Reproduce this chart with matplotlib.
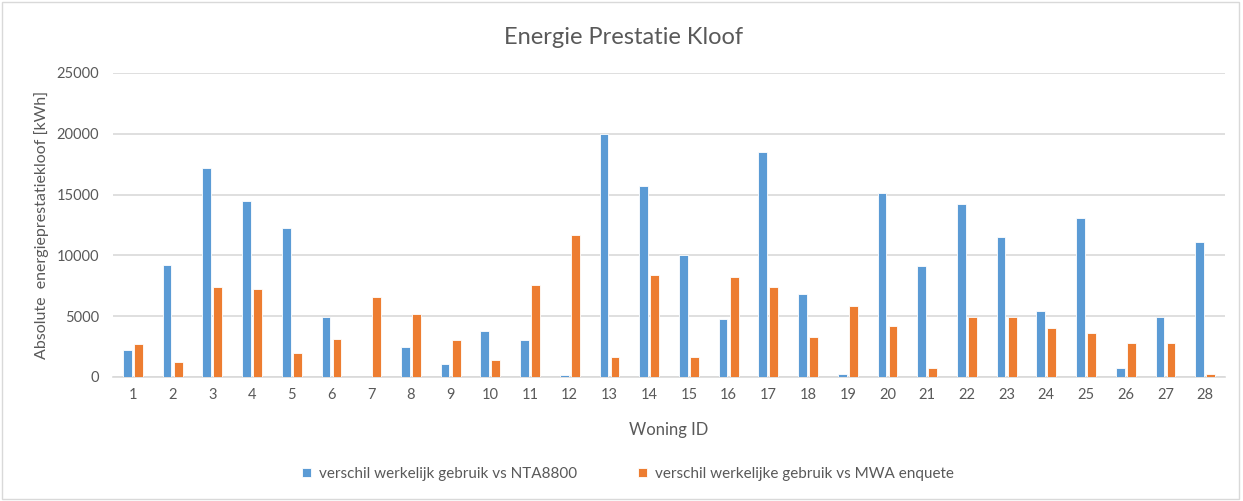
#!/usr/bin/env python3

import numpy as np
import matplotlib.pyplot as plt
from matplotlib.patches import Rectangle

woning_ids = [str(i) for i in range(1, 29)]
nta8800 = [2200, 9250, 17200, 14450, 12250, 4900, 0, 2450, 1070, 3820,
           3020, 140, 20000, 15700, 10050, 4750, 18500, 6850, 250, 15150,
           9150, 14250, 11550, 5450, 13050, 700, 4900, 11100]
mwa_enquete = [2680, 1200, 7420, 7200, 2000, 3150, 6600, 5220, 3020, 1400,
               7530, 11680, 1650, 8350, 1650, 8220, 7420, 3270, 5800, 4180,
               720, 4900, 4900, 4070, 3600, 2800, 2800, 250]
series_labels = ['verschil werkelijk gebruik vs NTA8800',
                 'verschil werkelijke gebruik vs MWA enquete']

blue = '#5b9bd5'
orange = '#ed7d31'
text_col = '#595959'
grid_col = '#d9d9d9'

plt.rcParams['font.family'] = ['Lato', 'DejaVu Sans']

fig = plt.figure(figsize=(12.43, 5.01), dpi=100)
ax = fig.add_axes([113 / 1243, 1 - 377 / 501, 1112 / 1243, 304 / 501])

x = np.arange(len(woning_ids))
w = 0.22
ax.bar(x - 0.14, nta8800, w, color=blue, edgecolor='white', linewidth=0.6,
       label=series_labels[0], zorder=3)
ax.bar(x + 0.14, mwa_enquete, w, color=orange, edgecolor='white', linewidth=0.6,
       label=series_labels[1], zorder=3)

ax.set_xlim(-0.5, len(woning_ids) - 0.5)
ax.set_ylim(0, 25000)
ax.set_yticks(range(0, 25001, 5000))
ax.set_xticks(x)
ax.set_xticklabels(woning_ids)
ax.yaxis.grid(True, color=grid_col, linewidth=1.2, zorder=0)
ax.tick_params(length=0, labelsize=10.5, colors=text_col)
ax.tick_params(axis='y', pad=10)
ax.tick_params(axis='x', pad=8)
for s in ['top', 'right', 'left']:
    ax.spines[s].set_visible(False)
ax.spines['bottom'].set_color(grid_col)
ax.spines['bottom'].set_linewidth(1.2)

ax.set_xlabel('Woning ID', fontsize=12, color=text_col, labelpad=14)
fig.text(42 / 1243, 1 - 225 / 501, 'Absolute  energieprestatiekloof [kWh]',
         rotation=90, ha='center', va='center', fontsize=11.5, color=text_col)
fig.text(624 / 1243, 1 - 37 / 501, 'Energie Prestatie Kloof',
         ha='center', va='center', fontsize=17, color=text_col)

fig.legend(loc='center', bbox_to_anchor=(628 / 1243, 1 - 474 / 501), ncol=2,
           frameon=False, fontsize=11, labelcolor=text_col, handlelength=0.6,
           handleheight=0.6, handletextpad=0.5, columnspacing=4.0)

fig.patches.append(Rectangle((0.002, 0.003), 0.995, 0.993, transform=fig.transFigure,
                             fill=False, edgecolor=grid_col, linewidth=1))

fig.savefig('out.png', dpi=100)
